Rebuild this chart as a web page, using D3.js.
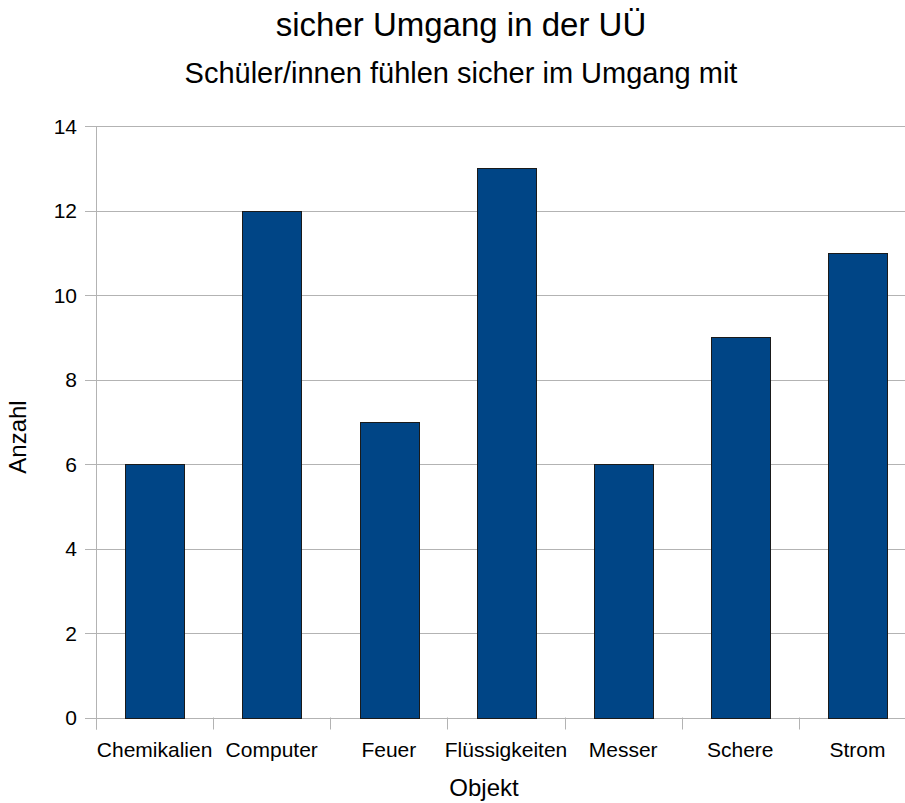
<!DOCTYPE html>
<html>
<head>
    <meta charset="utf-8">
    <style type="text/css">
        body { margin: 0; background: #fff; }
        svg { display: block; }
        text {
            font-family: "Liberation Sans", Arial, sans-serif;
            fill: #000;
        }
        .grid line, .axis-line { stroke: #b3b3b3; stroke-width: 1px; }
        rect.bar { fill: #004586; stroke: #1a1a1a; stroke-width: 1px; }
    </style>
    <script src="https://d3js.org/d3.v7.min.js"></script>
</head>
<body>
<svg id="chart" width="905" height="803"></svg>
<script type="text/javascript">
// data
const categories = ['Chemikalien', 'Computer', 'Feuer', 'Flüssigkeiten', 'Messer', 'Schere', 'Strom'];
const values = [6, 12, 7, 13, 6, 9, 11];
const yTicks = [0, 2, 4, 6, 8, 10, 12, 14];

const svg = d3.select('#chart');

// plot box (right edge runs past the window, like the original)
const plotLeft = 96, plotRight = 916, plotTop = 126, plotBottom = 717.5;

const x = d3.scaleBand()
    .domain(categories)
    .range([plotLeft, plotRight])
    .paddingInner(0.5)
    .paddingOuter(0.25);

const y = d3.scaleLinear()
    .domain([0, 14])
    .range([plotBottom, plotTop]);

// grid lines + little ticks left of the axis
svg.append('g')
    .attr('class', 'grid')
    .selectAll('line')
    .data(yTicks)
    .enter()
    .append('line')
    .attr('x1', plotLeft - 11)
    .attr('x2', 905)
    .attr('y1', d => Math.round(y(d)) + 0.5)
    .attr('y2', d => Math.round(y(d)) + 0.5);

// y axis line
svg.append('line')
    .attr('class', 'axis-line')
    .attr('x1', plotLeft + 0.5).attr('x2', plotLeft + 0.5)
    .attr('y1', plotTop).attr('y2', plotBottom + 12);

// x ticks at the band borders
const step = x.step();
svg.append('g')
    .attr('class', 'grid')
    .selectAll('line')
    .data(d3.range(categories.length + 1))
    .enter()
    .append('line')
    .attr('x1', i => Math.round(plotLeft + i * step) + 0.5)
    .attr('x2', i => Math.round(plotLeft + i * step) + 0.5)
    .attr('y1', plotBottom)
    .attr('y2', plotBottom + 12);

// bars
svg.append('g')
    .selectAll('rect')
    .data(values)
    .enter()
    .append('rect')
    .attr('class', 'bar')
    .attr('x', (d, i) => Math.round(x(categories[i])) + 0.5)
    .attr('width', Math.round(x.bandwidth()))
    .attr('y', d => Math.round(y(d)) + 0.5)
    .attr('height', d => Math.round(y(0)) - Math.round(y(d)));

// y tick labels
svg.append('g')
    .selectAll('text')
    .data(yTicks)
    .enter()
    .append('text')
    .attr('x', 77)
    .attr('y', d => y(d))
    .attr('dy', '0.36em')
    .attr('text-anchor', 'end')
    .style('font-size', '21px')
    .text(d => d);

// x tick labels
svg.append('g')
    .selectAll('text')
    .data(categories)
    .enter()
    .append('text')
    .attr('x', d => x(d) + x.bandwidth() / 2)
    .attr('y', 757)
    .attr('text-anchor', 'middle')
    .style('font-size', '21px')
    .text(d => d);

// titles
svg.append('text')
    .attr('x', 461).attr('y', 36)
    .attr('text-anchor', 'middle')
    .style('font-size', '33px')
    .text('sicher Umgang in der UÜ');

svg.append('text')
    .attr('x', 461).attr('y', 83)
    .attr('text-anchor', 'middle')
    .style('font-size', '29px')
    .text('Schüler/innen fühlen sicher im Umgang mit');

// axis titles
svg.append('text')
    .attr('x', 484).attr('y', 796)
    .attr('text-anchor', 'middle')
    .style('font-size', '24px')
    .text('Objekt');

svg.append('text')
    .attr('transform', 'translate(26,437) rotate(-90)')
    .attr('text-anchor', 'middle')
    .style('font-size', '24px')
    .text('Anzahl');
</script>
</body>
</html>
